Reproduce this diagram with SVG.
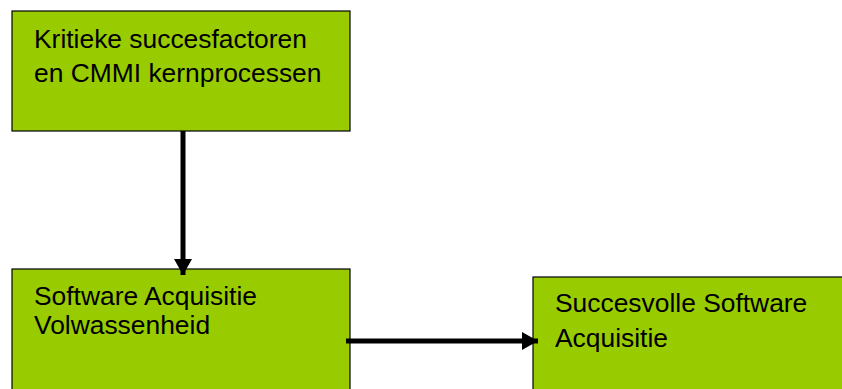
<svg xmlns="http://www.w3.org/2000/svg" width="842" height="389" viewBox="0 0 842 389">
<style>
.box{fill:#99cc00;stroke:#000;stroke-width:1.2}
.t{font-family:"Liberation Sans",Arial,sans-serif;font-size:26.4px;fill:#000}
.c{stroke:#000;stroke-width:5;fill:none}
</style>
<defs>
<marker id="ah" markerUnits="userSpaceOnUse" markerWidth="20" markerHeight="20" refX="16" refY="9" orient="auto">
<path d="M0,0 L16,9 L0,18 Z" fill="#000"/>
</marker>
</defs>
<rect width="842" height="389" fill="#fff"/>
<g id="n1">
<rect class="box" x="12" y="11" width="338" height="120"/>
<text class="t" x="34" y="48">Kritieke succesfactoren</text>
<text class="t" x="34" y="82">en CMMI kernprocessen</text>
</g>
<g id="n2">
<rect class="box" x="12" y="269" width="338" height="130"/>
<text class="t" x="34" y="305">Software Acquisitie</text>
<text class="t" x="34" y="334">Volwassenheid</text>
</g>
<g id="n3">
<rect class="box" x="533" y="277" width="320" height="130"/>
<text class="t" x="555" y="312">Succesvolle Software</text>
<text class="t" x="555" y="347">Acquisitie</text>
</g>
<g id="connectors">
<line class="c" x1="183" y1="131" x2="183" y2="275" marker-end="url(#ah)"/>
<line class="c" x1="346" y1="341" x2="538" y2="341" marker-end="url(#ah)"/>
</g>
</svg>
